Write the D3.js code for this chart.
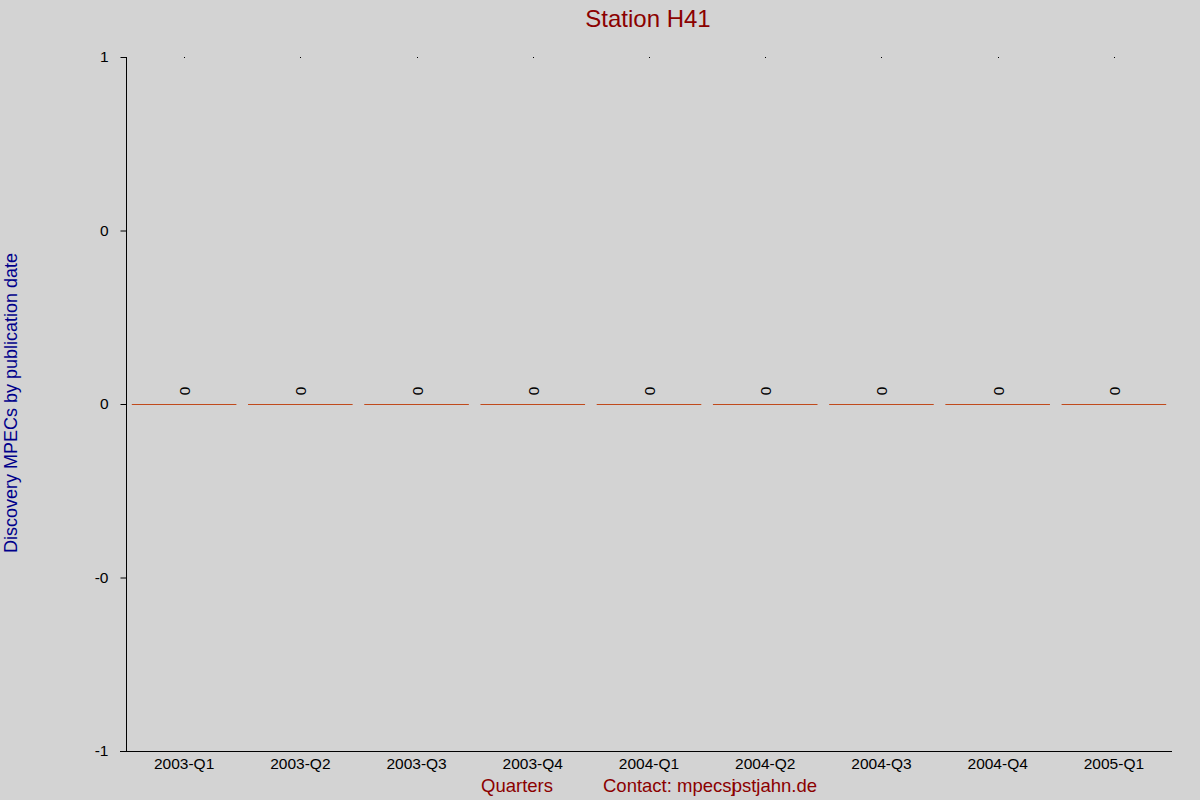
<!DOCTYPE html>
<html>
<head>
<meta charset="utf-8">
<script src="https://cdn.jsdelivr.net/npm/d3@7"></script>
<style>
  body { margin: 0; background: #d3d3d3; }
  text { font-family: "Liberation Sans", Arial, sans-serif; }
</style>
</head>
<body>
<script>
var quarters = ["2003-Q1", "2003-Q2", "2003-Q3", "2003-Q4", "2004-Q1",
                "2004-Q2", "2004-Q3", "2004-Q4", "2005-Q1"]
var discoveries = [0, 0, 0, 0, 0, 0, 0, 0, 0]
var yTicks = [-1, -0.5, 0, 0.5, 1]
var yTickLabels = ["-1", "-0", "0", "0", "1"]

var W = 1200, H = 800
var plotLeft = 126, plotRight = 1172, plotTop = 57, plotBottom = 751

var svg = d3.select("body")
  .append("svg")
  .attr("width", W)
  .attr("height", H)

svg.append("rect")
  .attr("width", W)
  .attr("height", H)
  .attr("fill", "#d3d3d3")

var x = d3.scaleBand()
  .domain(quarters)
  .range([plotLeft, plotRight])
  .paddingInner(0.1)
  .paddingOuter(0.05)

var y = d3.scaleLinear()
  .domain([-1, 1])
  .range([plotBottom, plotTop])

// y axis
var yAxis = svg.append("g")
  .attr("transform", "translate(" + (plotLeft + 0.5) + ",0)")
  .call(d3.axisLeft(y).tickValues(yTicks).tickSize(6).tickPadding(12)
    .tickFormat(function(d, i) { return yTickLabels[i] }))
yAxis.selectAll("path, line").attr("stroke", "#000")
yAxis.select(".domain").attr("d", "M0," + plotTop + "V" + plotBottom)
yAxis.selectAll("text")
  .attr("font-size", "15.5px")
  .attr("font-family", "Liberation Sans, Arial, sans-serif")
  .attr("fill", "#000")

// x axis
var xAxis = svg.append("g")
  .attr("transform", "translate(0," + (plotBottom + 0.5) + ")")
  .call(d3.axisBottom(x).tickSize(0).tickPadding(6))
xAxis.select(".domain").attr("stroke", "#000").attr("d", "M" + (plotLeft - 6) + ",0H" + plotRight)
xAxis.selectAll("text")
  .attr("font-size", "15.5px")
  .attr("font-family", "Liberation Sans, Arial, sans-serif")
  .attr("fill", "#000")

// small dots along the top
svg.selectAll(".dot")
  .data(quarters)
  .enter()
  .append("rect")
  .attr("class", "dot")
  .attr("x", function(d) { return Math.round(x(d) + x.bandwidth() / 2) })
  .attr("y", plotTop)
  .attr("width", 1)
  .attr("height", 1)
  .attr("fill", "#000")

// bars (zero height drawn as a line)
svg.selectAll(".bar")
  .data(discoveries)
  .enter()
  .append("line")
  .attr("class", "bar")
  .attr("x1", function(d, i) { return x(quarters[i]) })
  .attr("x2", function(d, i) { return x(quarters[i]) + x.bandwidth() })
  .attr("y1", function(d) { return Math.round(y(d)) + 0.5 })
  .attr("y2", function(d) { return Math.round(y(d)) + 0.5 })
  .attr("stroke", "#c04a1c")
  .attr("stroke-width", 1)

// value labels
svg.selectAll(".val")
  .data(discoveries)
  .enter()
  .append("text")
  .attr("class", "val")
  .text(function(d) { return d })
  .attr("transform", function(d, i) {
    return "translate(" + (x(quarters[i]) + x.bandwidth() / 2 + 6) + "," + (y(d) - 13) + ") rotate(-90)"
  })
  .attr("text-anchor", "middle")
  .attr("font-size", "15.5px")
  .attr("fill", "#000")

// title
svg.append("text")
  .text("Station H41")
  .attr("x", 648)
  .attr("y", 27)
  .attr("text-anchor", "middle")
  .attr("font-size", "24px")
  .attr("fill", "#8b0000")

// y label
svg.append("text")
  .text("Discovery MPECs by publication date")
  .attr("transform", "translate(17,403) rotate(-90)")
  .attr("text-anchor", "middle")
  .attr("font-size", "18px")
  .attr("fill", "#00008b")

// x labels
svg.append("text")
  .text("Quarters")
  .attr("x", 481)
  .attr("y", 792)
  .attr("font-size", "18.5px")
  .attr("fill", "#8b0000")

var contact = svg.append("text")
  .attr("x", 603)
  .attr("y", 792)
  .attr("font-size", "18.5px")
  .attr("fill", "#8b0000")
contact.append("tspan").text("Contact: mpecs")
contact.append("tspan").text("j").attr("dx", 0)
contact.append("tspan").text("pstjahn.de").attr("dx", -4)
</script>
</body>
</html>
